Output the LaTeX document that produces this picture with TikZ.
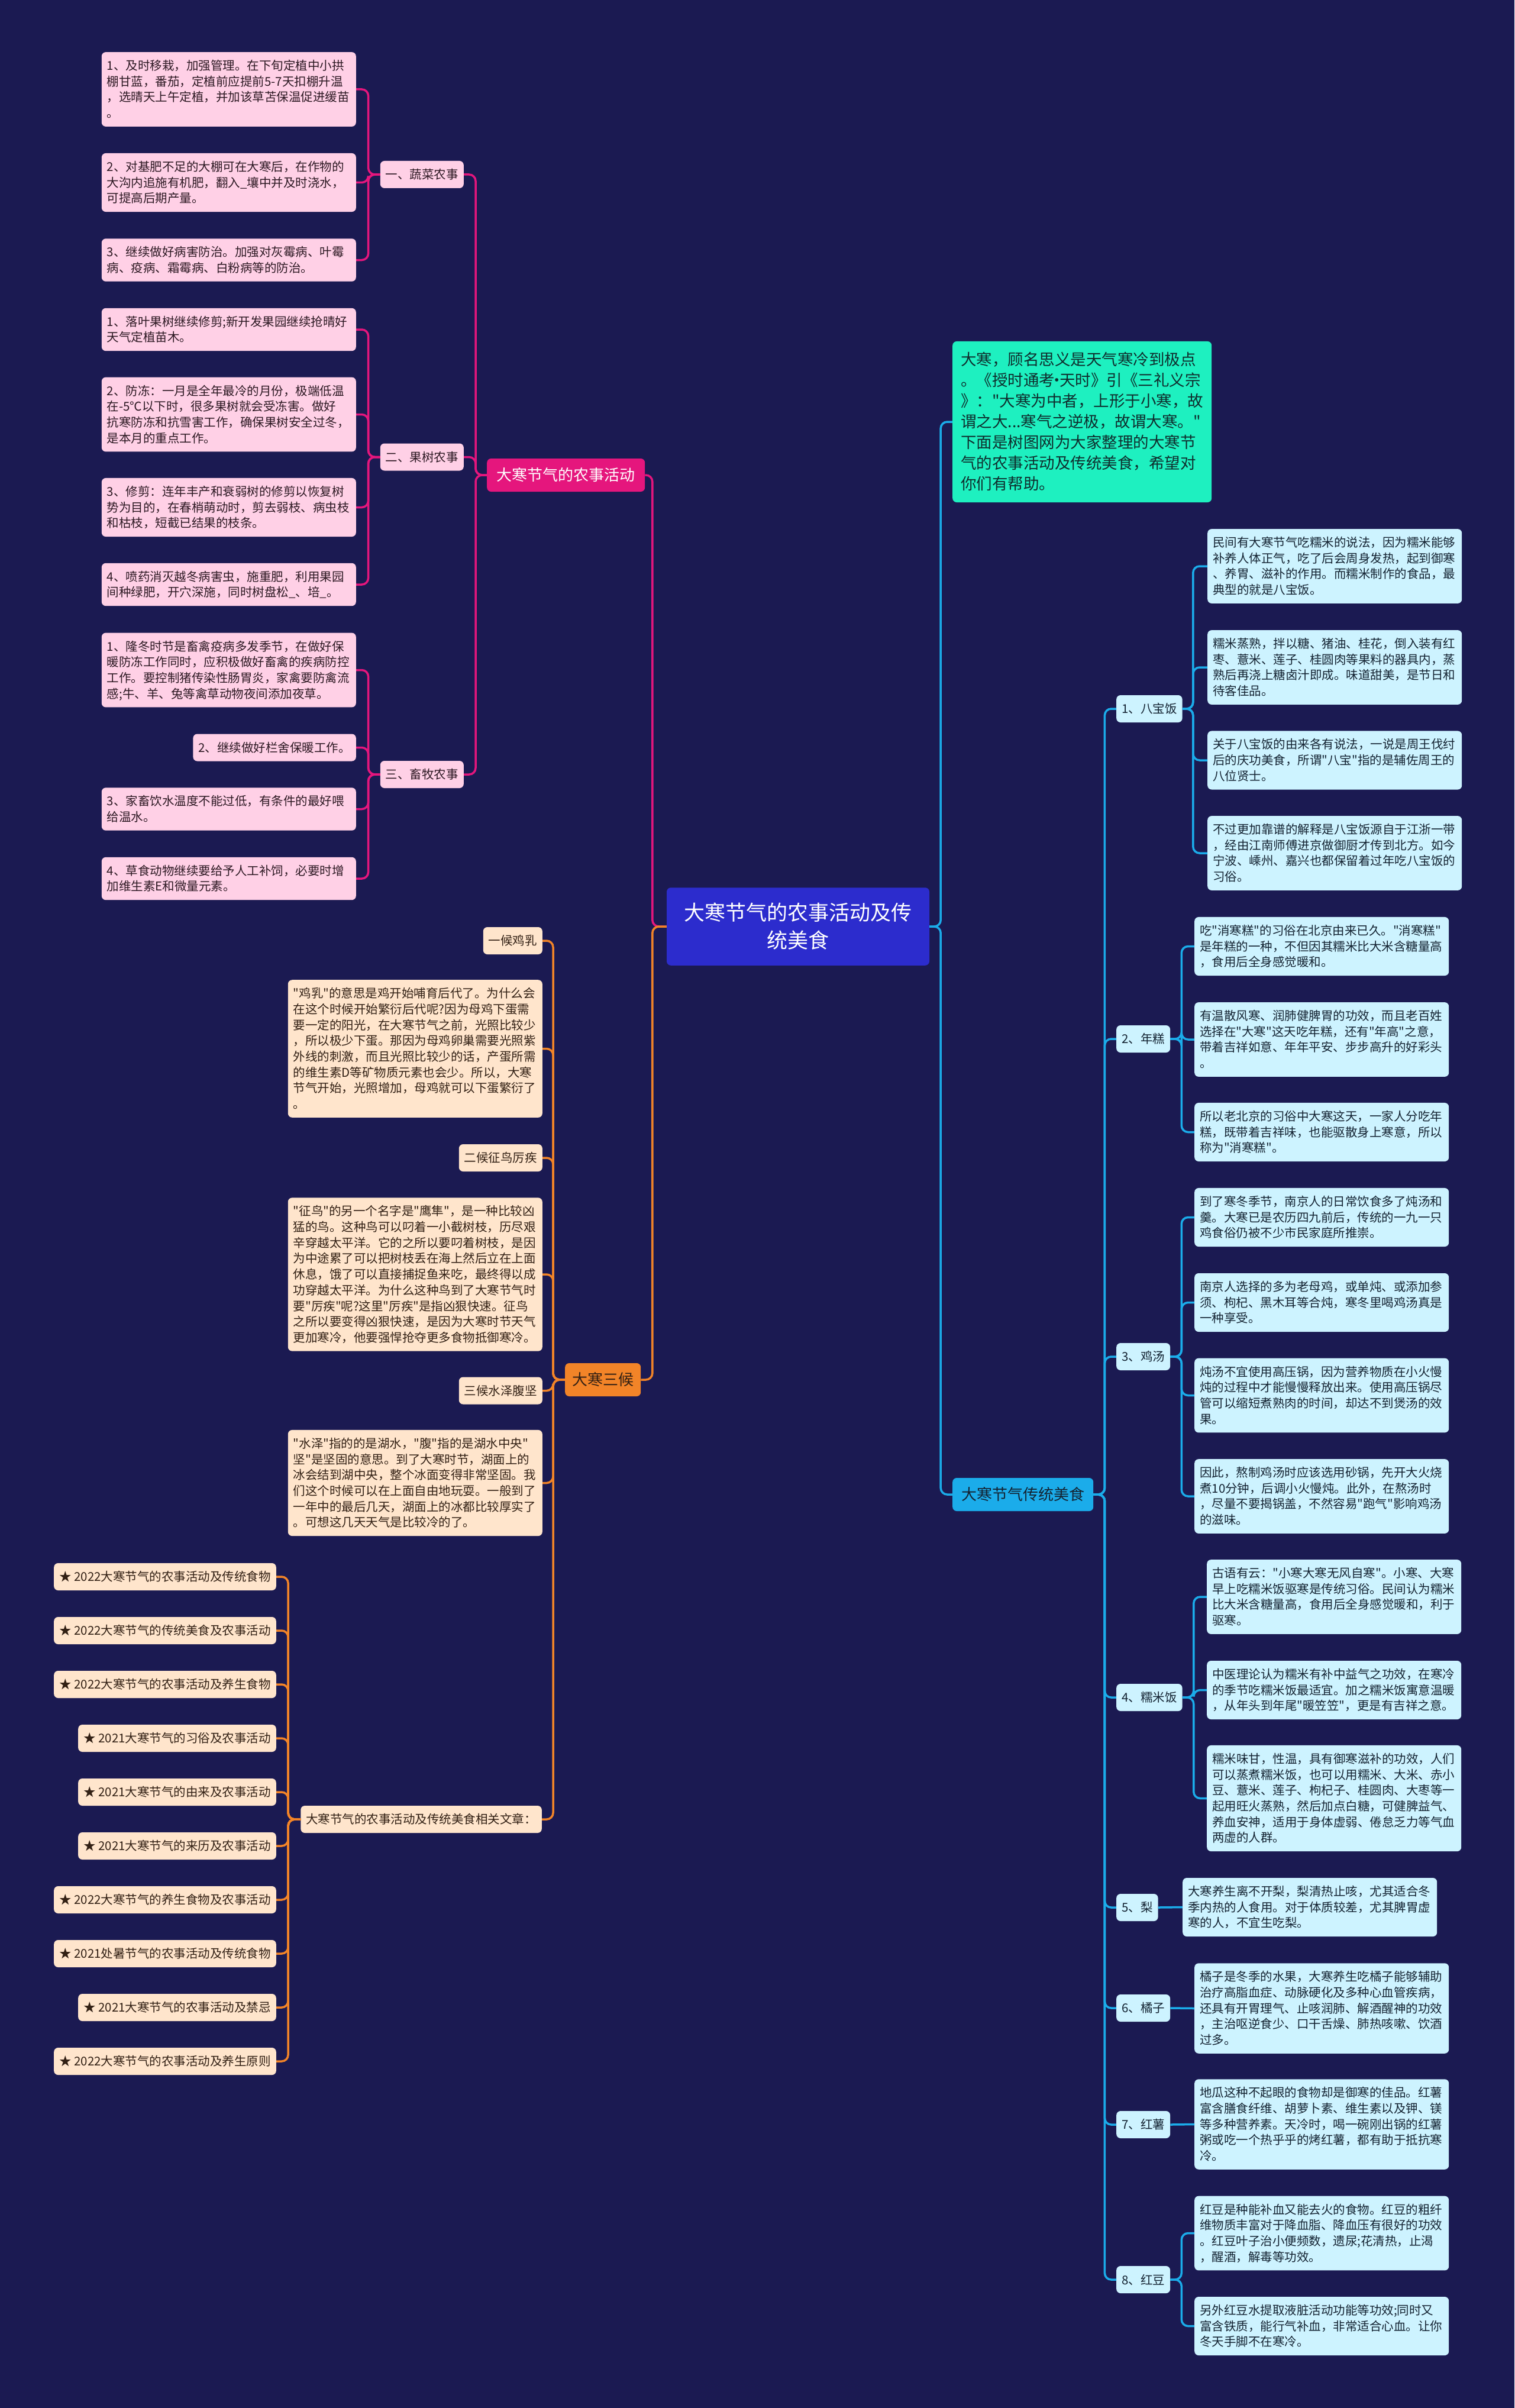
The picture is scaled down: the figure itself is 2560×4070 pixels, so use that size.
\documentclass[tikz,border=0pt]{standalone}
\usepackage{fontspec}
\setmainfont{Noto Sans CJK SC}[Ligatures=TeXOff]
\usepackage{xcolor}

\definecolor{bgcol}{RGB}{27,26,82}
\definecolor{magcol}{RGB}{229,22,125}
\definecolor{pinkfill}{RGB}{255,208,230}
\definecolor{pinktext}{RGB}{45,25,35}
\definecolor{orangecol}{RGB}{242,132,40}
\definecolor{peachfill}{RGB}{255,229,204}
\definecolor{peachtext}{RGB}{50,32,20}
\definecolor{cyancol}{RGB}{27,172,234}
\definecolor{cyanfill}{RGB}{205,243,255}
\definecolor{cyantext}{RGB}{20,35,50}
\definecolor{introfill}{RGB}{30,240,192}
\definecolor{introtext}{RGB}{15,45,45}
\definecolor{rootfill}{RGB}{44,44,205}

\newcommand{\tstrut}{\vrule width 0pt height 1.02em depth 0.28em}
\newcommand{\mdot}{\kern-0.35em·\kern-0.35em}

\tikzset{
  desc/.style={rounded corners=7pt, align=left, text width=412pt, inner xsep=9pt, inner ysep=9.5pt,
    font=\fontsize{20.5}{26.7}\selectfont, execute at begin node=\noindent\tstrut, execute at end node=\tstrut},
  leaf/.style={rounded corners=7pt, inner xsep=9pt, minimum height=46pt, font=\fontsize{20.5}{26.7}\selectfont},
  pinkdesc/.style={desc, fill=pinkfill, text=pinktext, anchor=east},
  pinkleaf/.style={leaf, fill=pinkfill, text=pinktext, anchor=east},
  peachdesc/.style={desc, fill=peachfill, text=peachtext, anchor=east},
  peachleaf/.style={leaf, fill=peachfill, text=peachtext, anchor=east},
  cyandesc/.style={desc, fill=cyanfill, text=cyantext, anchor=west},
  cyanleaf/.style={leaf, fill=cyanfill, text=cyantext, anchor=west},
  mainbox/.style={rounded corners=7pt, minimum height=56pt, inner xsep=12pt, anchor=west, font=\fontsize{26}{33}\selectfont},
  rootbox/.style={rounded corners=7pt, fill=rootfill, text=white, text width=390pt, align=center, inner xsep=27pt, inner ysep=19.5pt,
    font=\fontsize{35}{47}\selectfont, execute at begin node=\tstrut, execute at end node=\tstrut},
  introbox/.style={rounded corners=7pt, fill=introfill, text=introtext, text width=410pt, align=left, inner xsep=14pt, inner ysep=13.8pt,
    anchor=west, font=\fontsize{26.5}{35}\selectfont, execute at begin node=\noindent\tstrut, execute at end node=\tstrut},
  magline/.style={draw=magcol, line width=3.5pt, rounded corners=11pt},
  orangeline/.style={draw=orangecol, line width=3.5pt, rounded corners=11pt},
  cyanline/.style={draw=cyancol, line width=3.5pt, rounded corners=11pt}
}

\begin{document}
\begin{tikzpicture}[x=1pt, y=-1pt]
\useasboundingbox (0,0) rectangle (2560,4070);
\fill[bgcol] (0,0) rectangle (2560,4070);

\node[rootbox] (root) at (1349,1566) {大寒节气的农事活动及传\\统美食};

\node[mainbox, fill=magcol, text=white, minimum width=267pt] (farm) at (823,803) {大寒节气的农事活动};
\node[mainbox, fill=orangecol, text=peachtext, minimum width=125pt] (hou) at (955,2332) {大寒三候};
\node[mainbox, fill=cyancol, text=cyantext, minimum width=238pt] (food) at (1610,2526) {大寒节气传统美食};
\node[introbox] (intro) at (1610,713) {大寒，顾名思义是天气寒冷到极点\\。《授时通考\mdot 天时》引《三礼义宗\\》："大寒为中者，上形于小寒，故\\谓之大...寒气之逆极，故谓大寒。"\\下面是树图网为大家整理的大寒节\\气的农事活动及传统美食，希望对\\你们有帮助。};

% farm work, left
\node[pinkleaf] (veg) at (784,295) {一、蔬菜农事};
\node[pinkleaf] (fruit) at (784,772.5) {二、果树农事};
\node[pinkleaf] (stock) at (784,1309) {三、畜牧农事};

\node[pinkdesc] (v1) at (602,151) {1、及时移栽，加强管理。在下旬定植中小拱\\棚甘蓝，番茄，定植前应提前5-7天扣棚升温\\，选晴天上午定植，并加该草苫保温促进缓苗\\。};
\node[pinkdesc] (v2) at (602,308.5) {2、对基肥不足的大棚可在大寒后，在作物的\\大沟内追施有机肥，翻入\_壤中并及时浇水，\\可提高后期产量。};
\node[pinkdesc] (v3) at (602,439.5) {3、继续做好病害防治。加强对灰霉病、叶霉\\病、疫病、霜霉病、白粉病等的防治。};

\node[pinkdesc] (f1) at (602,557) {1、落叶果树继续修剪;新开发果园继续抢晴好\\天气定植苗木。};
\node[pinkdesc] (f2) at (602,700.5) {2、防冻：一月是全年最冷的月份，极端低温\\在-5℃以下时，很多果树就会受冻害。做好\\抗寒防冻和抗雪害工作，确保果树安全过冬，\\是本月的重点工作。};
\node[pinkdesc] (f3) at (602,857.5) {3、修剪：连年丰产和衰弱树的修剪以恢复树\\势为目的，在春梢萌动时，剪去弱枝、病虫枝\\和枯枝，短截已结果的枝条。};
\node[pinkdesc] (f4) at (602,988) {4、喷药消灭越冬病害虫，施重肥，利用果园\\间种绿肥，开穴深施，同时树盘松\_、培\_。};

\node[pinkdesc] (s1) at (602,1132.5) {1、隆冬时节是畜禽疫病多发季节，在做好保\\暖防冻工作同时，应积极做好畜禽的疾病防控\\工作。要控制猪传染性肠胃炎，家禽要防禽流\\感;牛、羊、兔等禽草动物夜间添加夜草。};
\node[pinkleaf] (s2) at (602,1263.5) {2、继续做好栏舍保暖工作。};
\node[pinkdesc] (s3) at (602,1367.5) {3、家畜饮水温度不能过低，有条件的最好喂\\给温水。};
\node[pinkdesc] (s4) at (602,1485) {4、草食动物继续要给予人工补饲，必要时增\\加维生素E和微量元素。};

% three pentads, left
\node[peachleaf] (c1) at (917,1590) {一候鸡乳};
\node[peachdesc] (h1) at (917,1772.5) {"鸡乳"的意思是鸡开始哺育后代了。为什么会\\在这个时候开始繁衍后代呢?因为母鸡下蛋需\\要一定的阳光，在大寒节气之前，光照比较少\\，所以极少下蛋。那因为母鸡卵巢需要光照紫\\外线的刺激，而且光照比较少的话，产蛋所需\\的维生素D等矿物质元素也会少。所以，大寒\\节气开始，光照增加，母鸡就可以下蛋繁衍了\\。};
\node[peachleaf] (c2) at (917,1957) {二候征鸟厉疾};
\node[peachdesc] (h2) at (917,2154) {"征鸟"的另一个名字是"鹰隼"，是一种比较凶\\猛的鸟。这种鸟可以叼着一小截树枝，历尽艰\\辛穿越太平洋。它的之所以要叼着树枝，是因\\为中途累了可以把树枝丢在海上然后立在上面\\休息，饿了可以直接捕捉鱼来吃，最终得以成\\功穿越太平洋。为什么这种鸟到了大寒节气时\\要"厉疾"呢?这里"厉疾"是指凶狠快速。征鸟\\之所以要变得凶狠快速，是因为大寒时节天气\\更加寒冷，他要强悍抢夺更多食物抵御寒冷。};
\node[peachleaf] (c3) at (917,2350.5) {三候水泽腹坚};
\node[peachdesc] (h3) at (917,2506.5) {"水泽"指的的是湖水，"腹"指的是湖水中央"\\坚"是坚固的意思。到了大寒时节，湖面上的\\冰会结到湖中央，整个冰面变得非常坚固。我\\们这个时候可以在上面自由地玩耍。一般到了\\一年中的最后几天，湖面上的冰都比较厚实了\\。可想这几天天气是比较冷的了。};
\node[peachleaf] (rel) at (916,3075) {大寒节气的农事活动及传统美食相关文章：};

\node[peachleaf] (a1) at (467,2665) {★ 2022大寒节气的农事活动及传统食物};
\node[peachleaf] (a2) at (467,2756) {★ 2022大寒节气的传统美食及农事活动};
\node[peachleaf] (a3) at (467,2847) {★ 2022大寒节气的农事活动及养生食物};
\node[peachleaf] (a4) at (467,2938) {★ 2021大寒节气的习俗及农事活动};
\node[peachleaf] (a5) at (467,3029) {★ 2021大寒节气的由来及农事活动};
\node[peachleaf] (a6) at (467,3120) {★ 2021大寒节气的来历及农事活动};
\node[peachleaf] (a7) at (467,3211) {★ 2022大寒节气的养生食物及农事活动};
\node[peachleaf] (a8) at (467,3302) {★ 2021处暑节气的农事活动及传统食物};
\node[peachleaf] (a9) at (467,3393) {★ 2021大寒节气的农事活动及禁忌};
\node[peachleaf] (a10) at (467,3484) {★ 2022大寒节气的农事活动及养生原则};

% food, right
\node[cyanleaf] (bao) at (1887,1198) {1、八宝饭};
\node[cyanleaf] (nian) at (1887,1756) {2、年糕};
\node[cyanleaf] (ji) at (1887,2293) {3、鸡汤};
\node[cyanleaf] (nuo) at (1887,2869) {4、糯米饭};
\node[cyanleaf] (li) at (1887,3224) {5、梨};
\node[cyanleaf] (ju) at (1887,3394) {6、橘子};
\node[cyanleaf] (shu) at (1887,3591) {7、红薯};
\node[cyanleaf] (dou) at (1887,3853) {8、红豆};

\node[cyandesc] (b1) at (2041,957) {民间有大寒节气吃糯米的说法，因为糯米能够\\补养人体正气，吃了后会周身发热，起到御寒\\、养胃、滋补的作用。而糯米制作的食品，最\\典型的就是八宝饭。};
\node[cyandesc] (b2) at (2041,1128) {糯米蒸熟，拌以糖、猪油、桂花，倒入装有红\\枣、薏米、莲子、桂圆肉等果料的器具内，蒸\\熟后再浇上糖卤汁即成。味道甜美，是节日和\\待客佳品。};
\node[cyandesc] (b3) at (2041,1285) {关于八宝饭的由来各有说法，一说是周王伐纣\\后的庆功美食，所谓"八宝"指的是辅佐周王的\\八位贤士。};
\node[cyandesc] (b4) at (2041,1442) {不过更加靠谱的解释是八宝饭源自于江浙一带\\，经由江南师傅进京做御厨才传到北方。如今\\宁波、嵊州、嘉兴也都保留着过年吃八宝饭的\\习俗。};

\node[cyandesc] (n1) at (2019,1599.5) {吃"消寒糕"的习俗在北京由来已久。"消寒糕"\\是年糕的一种，不但因其糯米比大米含糖量高\\，食用后全身感觉暖和。};
\node[cyandesc] (n2) at (2019,1757) {有温散风寒、润肺健脾胃的功效，而且老百姓\\选择在"大寒"这天吃年糕，还有"年高"之意，\\带着吉祥如意、年年平安、步步高升的好彩头\\。};
\node[cyandesc] (n3) at (2019,1913.5) {所以老北京的习俗中大寒这天，一家人分吃年\\糕，既带着吉祥味，也能驱散身上寒意，所以\\称为"消寒糕"。};

\node[cyandesc] (j1) at (2019,2057.5) {到了寒冬季节，南京人的日常饮食多了炖汤和\\羹。大寒已是农历四九前后，传统的一九一只\\鸡食俗仍被不少市民家庭所推崇。};
\node[cyandesc] (j2) at (2019,2201.5) {南京人选择的多为老母鸡，或单炖、或添加参\\须、枸杞、黑木耳等合炖，寒冬里喝鸡汤真是\\一种享受。};
\node[cyandesc] (j3) at (2019,2358.5) {炖汤不宜使用高压锅，因为营养物质在小火慢\\炖的过程中才能慢慢释放出来。使用高压锅尽\\管可以缩短煮熟肉的时间，却达不到煲汤的效\\果。};
\node[cyandesc] (j4) at (2019,2529) {因此，熬制鸡汤时应该选用砂锅，先开大火烧\\煮10分钟，后调小火慢炖。此外，在熬汤时\\，尽量不要揭锅盖，不然容易"跑气"影响鸡汤\\的滋味。};

\node[cyandesc] (r1) at (2040,2699) {古语有云："小寒大寒无风自寒"。小寒、大寒\\早上吃糯米饭驱寒是传统习俗。民间认为糯米\\比大米含糖量高，食用后全身感觉暖和，利于\\驱寒。};
\node[cyandesc] (r2) at (2040,2856.5) {中医理论认为糯米有补中益气之功效，在寒冷\\的季节吃糯米饭最适宜。加之糯米饭寓意温暖\\，从年头到年尾"暖笠笠"，更是有吉祥之意。};
\node[cyandesc] (r3) at (2040,3039.5) {糯米味甘，性温，具有御寒滋补的功效，人们\\可以蒸煮糯米饭，也可以用糯米、大米、赤小\\豆、薏米、莲子、枸杞子、桂圆肉、大枣等一\\起用旺火蒸熟，然后加点白糖，可健脾益气、\\养血安神，适用于身体虚弱、倦怠乏力等气血\\两虚的人群。};

\node[cyandesc] (p1) at (1999,3223.5) {大寒养生离不开梨，梨清热止咳，尤其适合冬\\季内热的人食用。对于体质较差，尤其脾胃虚\\寒的人，不宜生吃梨。};
\node[cyandesc] (ju1) at (2019,3394.5) {橘子是冬季的水果，大寒养生吃橘子能够辅助\\治疗高脂血症、动脉硬化及多种心血管疾病，\\还具有开胃理气、止咳润肺、解酒醒神的功效\\，主治呕逆食少、口干舌燥、肺热咳嗽、饮酒\\过多。};
\node[cyandesc] (sh1) at (2019,3590.5) {地瓜这种不起眼的食物却是御寒的佳品。红薯\\富含膳食纤维、胡萝卜素、维生素以及钾、镁\\等多种营养素。天冷时，喝一碗刚出锅的红薯\\粥或吃一个热乎乎的烤红薯，都有助于抵抗寒\\冷。};
\node[cyandesc] (rd1) at (2019,3774.5) {红豆是种能补血又能去火的食物。红豆的粗纤\\维物质丰富对于降血脂、降血压有很好的功效\\。红豆叶子治小便频数，遗尿;花清热，止渴\\，醒酒，解毒等功效。};
\node[cyandesc] (rd2) at (2019,3931.5) {另外红豆水提取液脏活动功能等功效;同时又\\富含铁质，能行气补血，非常适合心血。让你\\冬天手脚不在寒冷。};

% connectors
\draw[magline] (root.west) -- ++(-24,0) |- (farm.east);
\draw[orangeline] (root.west) -- ++(-24,0) |- (hou.east);
\draw[cyanline] (root.east) -- ++(19,0) |- (intro.west);
\draw[cyanline] (root.east) -- ++(19,0) |- (food.west);

\foreach \n in {veg,fruit,stock} \draw[magline] (farm.west) -- ++(-19,0) |- (\n.east);
\foreach \n in {v1,v2,v3} \draw[magline] (veg.west) -- ++(-20,0) |- (\n.east);
\foreach \n in {f1,f2,f3,f4} \draw[magline] (fruit.west) -- ++(-20,0) |- (\n.east);
\foreach \n in {s1,s2,s3,s4} \draw[magline] (stock.west) -- ++(-20,0) |- (\n.east);

\foreach \n in {c1,h1,c2,h2,c3,h3,rel} \draw[orangeline] (hou.west) -- ++(-20,0) |- (\n.east);
\foreach \n in {a1,a2,a3,a4,a5,a6,a7,a8,a9,a10} \draw[orangeline] (rel.west) -- ++(-21,0) |- (\n.east);

\foreach \n in {bao,nian,ji,nuo,li,ju,shu,dou} \draw[cyanline] (food.east) -- ++(19,0) |- (\n.west);
\foreach \n in {b1,b2,b3,b4} \draw[cyanline] (bao.east) -- ++(18,0) |- (\n.west);
\foreach \n in {n1,n2,n3} \draw[cyanline] (nian.east) -- ++(19,0) |- (\n.west);
\foreach \n in {j1,j2,j3,j4} \draw[cyanline] (ji.east) -- ++(19,0) |- (\n.west);
\foreach \n in {r1,r2,r3} \draw[cyanline] (nuo.east) -- ++(19,0) |- (\n.west);
\draw[cyanline] (li.east) -- (p1.west);
\draw[cyanline] (ju.east) -- (ju1.west);
\draw[cyanline] (shu.east) -- (sh1.west);
\foreach \n in {rd1,rd2} \draw[cyanline] (dou.east) -- ++(19,0) |- (\n.west);
\end{tikzpicture}
\end{document}
